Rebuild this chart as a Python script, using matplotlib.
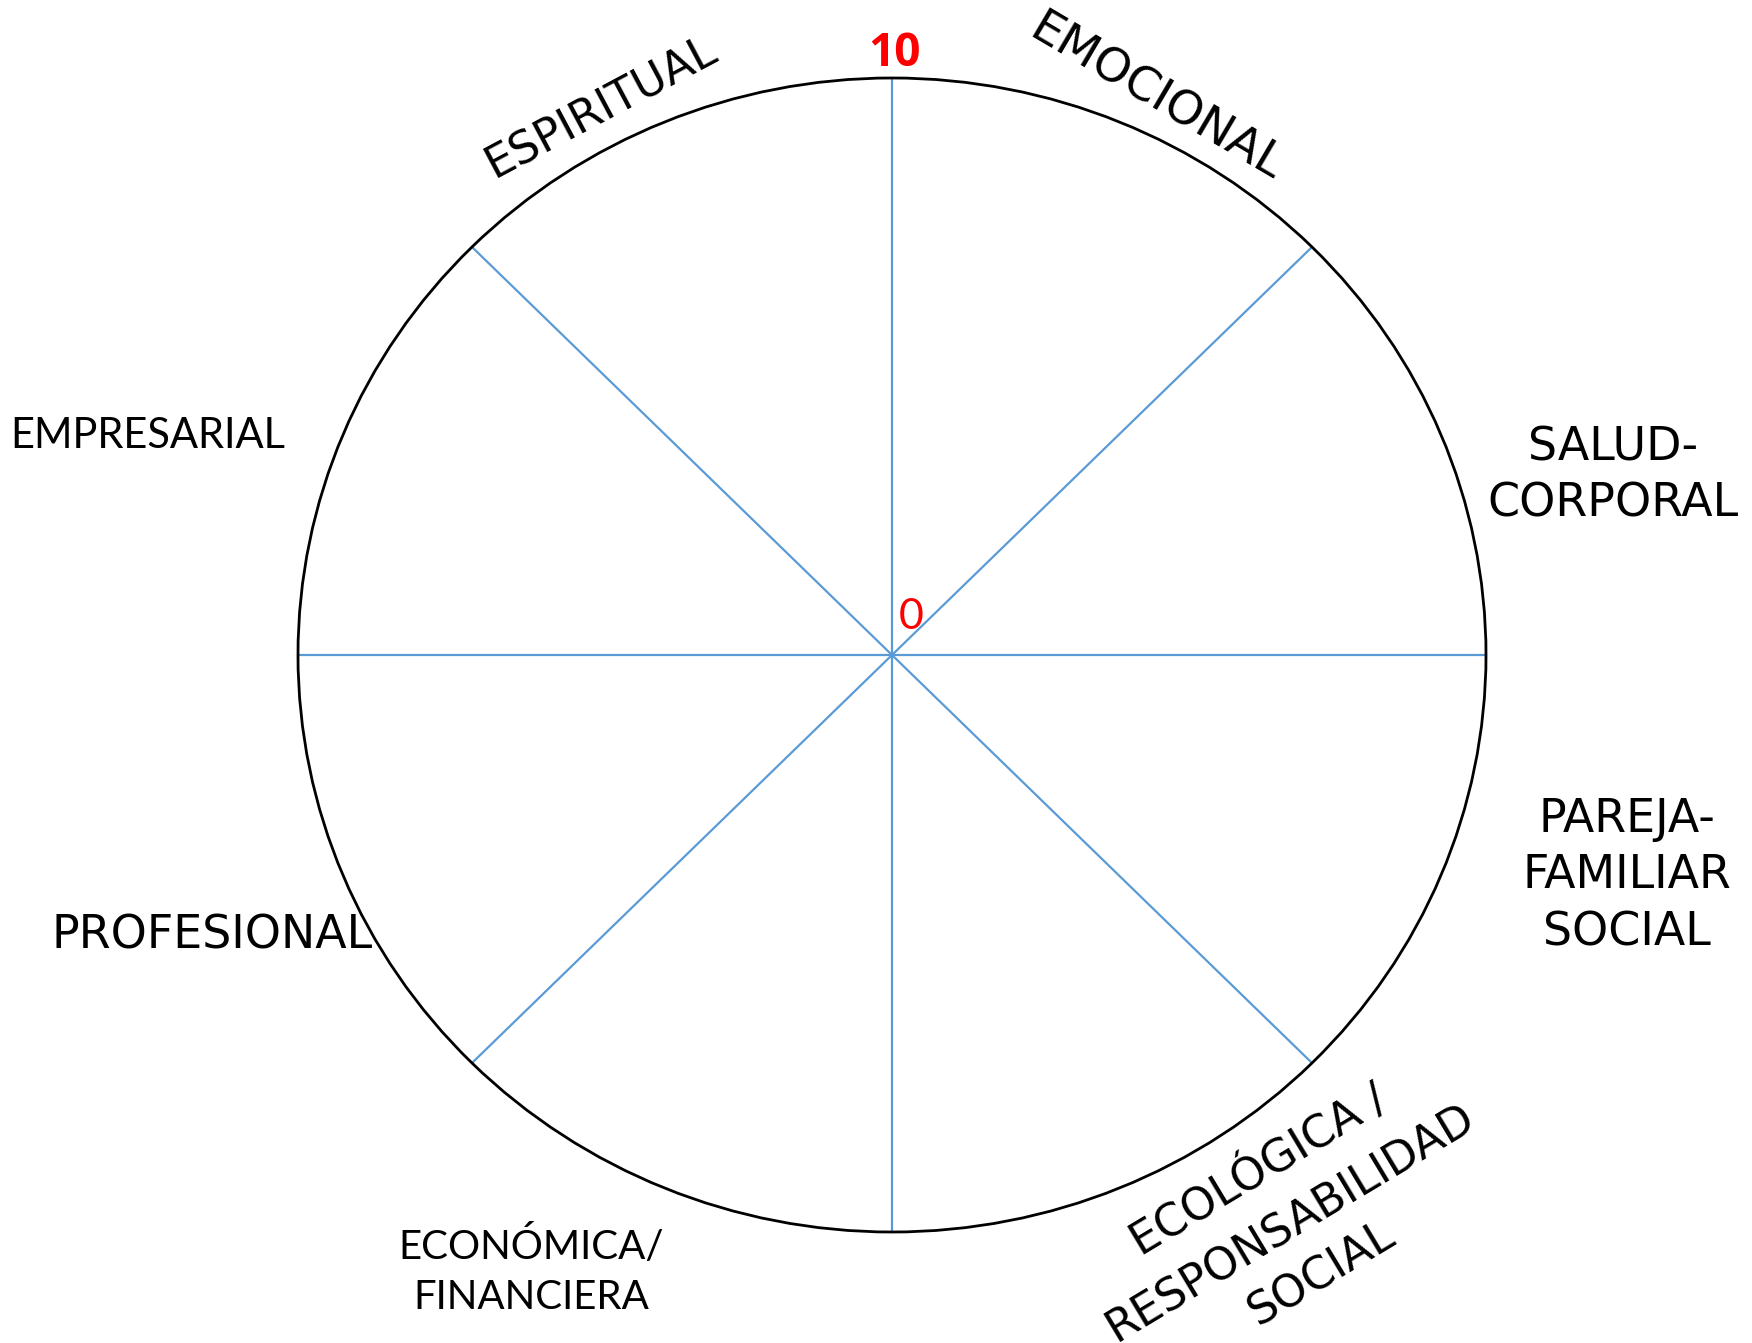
import numpy as np
import matplotlib
matplotlib.use("Agg")
import matplotlib.pyplot as plt
from matplotlib.patches import Circle

# datos de la rueda
categorias = ["EMOCIONAL", "SALUD-\nCORPORAL", "PAREJA-\nFAMILIAR\nSOCIAL",
              "ECOLÓGICA /\nRESPONSABILIDAD\nSOCIAL", "ECONÓMICA/\nFINANCIERA",
              "PROFESIONAL", "EMPRESARIAL", "ESPIRITUAL"]
escala_min = 0
escala_max = 10

# ángulos de los radios (8 radios, empezando arriba)
n_radios = 8
angulos = np.deg2rad(90 - 360 / n_radios * np.arange(n_radios))

W, H = 1752, 1343
cx, cy = 892, 655          # centro en píxeles
sx, sy = 59.4, 57.7        # píxeles por unidad

fig = plt.figure(figsize=(W / 100, H / 100), dpi=100)
ax = fig.add_axes([0, 0, 1, 1])
ax.set_xlim(-cx / sx, (W - cx) / sx)
ax.set_ylim((cy - H) / sy, cy / sy)
ax.axis('off')

azul = '#5B9BD5'
for a in angulos:
    ax.plot([escala_min * np.cos(a), escala_max * np.cos(a)],
            [escala_min * np.sin(a), escala_max * np.sin(a)],
            color=azul, lw=1.6, solid_capstyle='butt', zorder=1)
ax.add_patch(Circle((0, 0), escala_max, fill=False, ec='black', lw=2.0, zorder=2))


def ftext(x, y, s, **kw):
    fig.text(x / W, 1 - y / H, s, ha='center', va='center', **kw)


gothic = 'DejaVu Sans'
calibri = 'Lato'

# etiquetas: (texto, x, y, rotación, tamaño, fuente, interlineado)
disposicion = [
    (categorias[0], 1156, 98, -30.5, 34, gothic, 1.34),
    (categorias[1], 1613, 476, 0, 33, gothic, 1.34),
    (categorias[2], 1627, 876, 0, 33, gothic, 1.34),
    (categorias[3], 1290, 1222, 31, 32, gothic, 1.5),
    (categorias[4], 531, 1271, 0, 29, calibri, 1.45),
    (categorias[5], 212, 936, 0, 33, gothic, 1.34),
    (categorias[6], 148, 436, 0, 30, calibri, 1.34),
    (categorias[7], 601, 108, 28, 32, gothic, 1.34),
]
for s, x, y, rot, fs, fam, ls in disposicion:
    ftext(x, y, s, rotation=rot, rotation_mode='anchor', fontsize=fs,
          family=fam, linespacing=ls)

ftext(895, 53, str(escala_max), color='#FF0000', fontsize=33,
      fontweight='bold', family=['Open Sans', 'DejaVu Sans'])
ftext(911, 617, str(escala_min), color='#FF0000', fontsize=31, family=calibri)

fig.savefig('out.png', dpi=100, facecolor='white')
